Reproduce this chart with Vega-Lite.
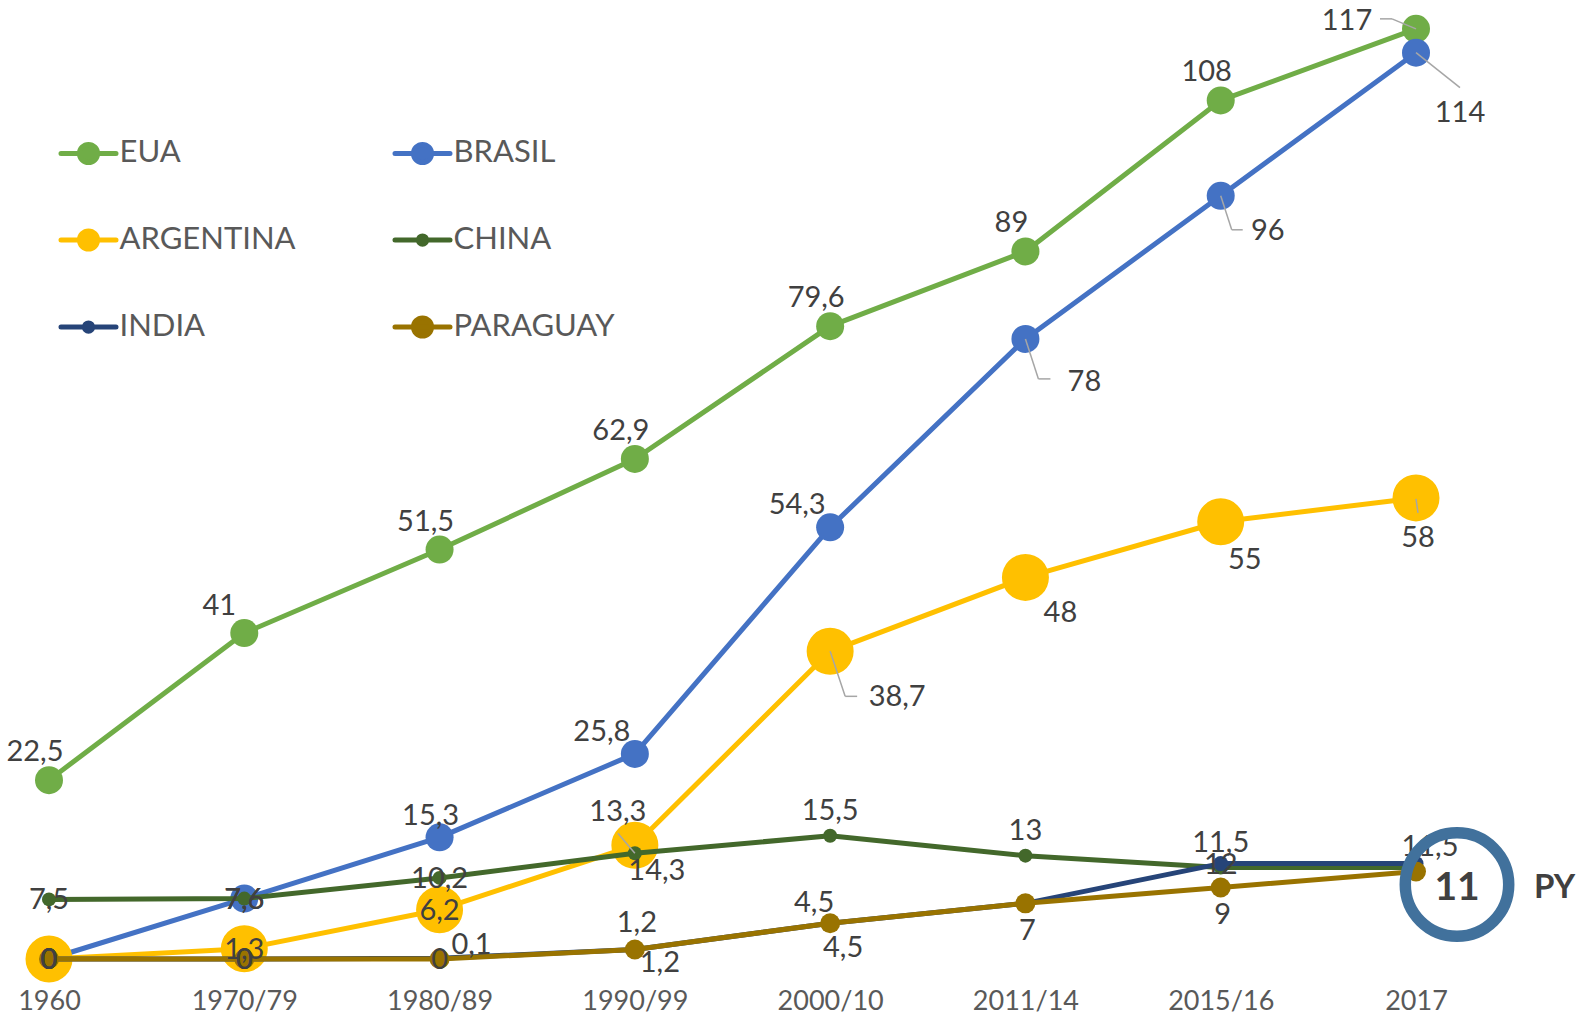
{
"$schema": "https://vega.github.io/schema/vega-lite/v6.json",
"width": 1367, "height": 954,
"autosize": {"type": "none"},
"padding": {"left": 49, "top": 5, "right": 164, "bottom": 58},
"background": "white",
"config": {"view": {"stroke": null}, "font": "Lato", "text": {"font": "Lato", "fontSize": 29, "color": "#404040"}},
"data": {"values": [
{"c":"EUA","p":"1960","v":22.5},{"c":"EUA","p":"1970/79","v":41},{"c":"EUA","p":"1980/89","v":51.5},{"c":"EUA","p":"1990/99","v":62.9},{"c":"EUA","p":"2000/10","v":79.6},{"c":"EUA","p":"2011/14","v":89},{"c":"EUA","p":"2015/16","v":108},{"c":"EUA","p":"2017","v":117},
{"c":"BRASIL","p":"1960","v":0},{"c":"BRASIL","p":"1970/79","v":7.6},{"c":"BRASIL","p":"1980/89","v":15.3},{"c":"BRASIL","p":"1990/99","v":25.8},{"c":"BRASIL","p":"2000/10","v":54.3},{"c":"BRASIL","p":"2011/14","v":78},{"c":"BRASIL","p":"2015/16","v":96},{"c":"BRASIL","p":"2017","v":114},
{"c":"ARGENTINA","p":"1960","v":0},{"c":"ARGENTINA","p":"1970/79","v":1.3},{"c":"ARGENTINA","p":"1980/89","v":6.2},{"c":"ARGENTINA","p":"1990/99","v":14.3},{"c":"ARGENTINA","p":"2000/10","v":38.7},{"c":"ARGENTINA","p":"2011/14","v":48},{"c":"ARGENTINA","p":"2015/16","v":55},{"c":"ARGENTINA","p":"2017","v":58},
{"c":"CHINA","p":"1960","v":7.5},{"c":"CHINA","p":"1970/79","v":7.6},{"c":"CHINA","p":"1980/89","v":10.2},{"c":"CHINA","p":"1990/99","v":13.3},{"c":"CHINA","p":"2000/10","v":15.5},{"c":"CHINA","p":"2011/14","v":13},{"c":"CHINA","p":"2015/16","v":11.5},{"c":"CHINA","p":"2017","v":11.5},
{"c":"INDIA","p":"1960","v":0},{"c":"INDIA","p":"1970/79","v":0},{"c":"INDIA","p":"1980/89","v":0.1},{"c":"INDIA","p":"1990/99","v":1.2},{"c":"INDIA","p":"2000/10","v":4.5},{"c":"INDIA","p":"2011/14","v":7},{"c":"INDIA","p":"2015/16","v":12},{"c":"INDIA","p":"2017","v":12},
{"c":"PARAGUAY","p":"1960","v":0},{"c":"PARAGUAY","p":"1970/79","v":0},{"c":"PARAGUAY","p":"1980/89","v":0},{"c":"PARAGUAY","p":"1990/99","v":1.2},{"c":"PARAGUAY","p":"2000/10","v":4.5},{"c":"PARAGUAY","p":"2011/14","v":7},{"c":"PARAGUAY","p":"2015/16","v":9},{"c":"PARAGUAY","p":"2017","v":11}
]},
"transform": [
{"calculate": "datum.c + '|' + datum.p", "as": "k"},
{"calculate": "replace(format(datum.v, '.1~f'), '.', ',')", "as": "lab"}
],
"encoding": {
"x": {"field": "p", "type": "ordinal", "sort": ["1960","1970/79","1980/89","1990/99","2000/10","2011/14","2015/16","2017"], "scale": {"type": "point", "padding": 0},
 "axis": {"title": null, "labelAngle": 0, "ticks": false, "tickSize": 0, "domain": false, "grid": false, "labelFontSize": 27, "labelFont": "Lato", "labelColor": "#595959", "labelPadding": 29}},
"y": {"field": "v", "type": "quantitative", "scale": {"domain": [0, 120], "nice": false}, "axis": null}
},
"layer": [
{"transform": [{"filter": "datum.c=='EUA'"}], "layer": [
 {"mark": {"type": "line", "strokeWidth": 5, "strokeJoin": "round"}, "encoding": {"color": {"field": "c", "type": "nominal",
  "scale": {"domain": ["EUA","ARGENTINA","INDIA","BRASIL","CHINA","PARAGUAY"], "range": ["#70AD47","#FFC000","#264478","#4472C4","#43682B","#997300"]},
  "legend": {"title": null, "orient": "none", "legendX": 9.5, "legendY": 118, "columns": 2, "columnPadding": 88, "rowPadding": 37,
   "symbolSize": 3025, "symbolStrokeWidth": 5, "labelFont": "Lato", "labelFontSize": 31, "labelColor": "#595959", "labelOffset": 1, "labelLimit": 400,
   "symbolType": "M-1,0L1,0M0.33,0A0.33,0.33,0,1,1,-0.33,0A0.33,0.33,0,1,1,0.33,0Z",
   "encode": {"symbols": {"update": {"fill": {"scale": "color", "field": "value"}, "stroke": {"scale": "color", "field": "value"}, "strokeWidth": {"value": 5}, "opacity": {"value": 1}, "strokeCap": {"value": "round"},
    "shape": {"signal": "datum.value==='CHINA'||datum.value==='INDIA' ? 'M-1,0L1,0M0.15,0A0.15,0.15,0,1,1,-0.15,0A0.15,0.15,0,1,1,0.15,0Z' : 'M-1,0L1,0M0.33,0A0.33,0.33,0,1,1,-0.33,0A0.33,0.33,0,1,1,0.33,0Z'"}}}}}}}},
 {"mark": {"type": "point", "filled": true, "opacity": 1, "size": 784, "shape": "circle"}, "encoding": {"color": {"field": "c", "type": "nominal"}}}
]},
{"transform": [{"filter": "datum.c=='BRASIL'"}], "layer": [
 {"mark": {"type": "line", "strokeWidth": 5, "strokeJoin": "round"}, "encoding": {"color": {"field": "c", "type": "nominal"}}},
 {"mark": {"type": "point", "filled": true, "opacity": 1, "size": 784, "shape": "circle"}, "encoding": {"color": {"field": "c", "type": "nominal"}}}
]},
{"transform": [{"filter": "datum.c=='ARGENTINA'"}], "layer": [
 {"mark": {"type": "line", "strokeWidth": 5, "strokeJoin": "round"}, "encoding": {"color": {"field": "c", "type": "nominal"}}},
 {"mark": {"type": "point", "filled": true, "opacity": 1, "size": 2209, "shape": "circle"}, "encoding": {"color": {"field": "c", "type": "nominal"}}}
]},
{"transform": [{"filter": "datum.c=='CHINA'"}], "layer": [
 {"mark": {"type": "line", "strokeWidth": 5, "strokeJoin": "round"}, "encoding": {"color": {"field": "c", "type": "nominal"}}},
 {"mark": {"type": "point", "filled": true, "opacity": 1, "size": 196, "shape": "circle"}, "encoding": {"color": {"field": "c", "type": "nominal"}}}
]},
{"transform": [{"filter": "datum.c=='INDIA'"}], "layer": [
 {"mark": {"type": "line", "strokeWidth": 5, "strokeJoin": "round"}, "encoding": {"color": {"field": "c", "type": "nominal"}}},
 {"mark": {"type": "point", "filled": true, "opacity": 1, "size": 225, "shape": "circle"}, "encoding": {"color": {"field": "c", "type": "nominal"}}}
]},
{"transform": [{"filter": "datum.c=='PARAGUAY'"}], "layer": [
 {"mark": {"type": "line", "strokeWidth": 5, "strokeJoin": "round"}, "encoding": {"color": {"field": "c", "type": "nominal"}}},
 {"mark": {"type": "point", "filled": true, "opacity": 1, "size": 400, "shape": "circle"}, "encoding": {"color": {"field": "c", "type": "nominal"}}}
]},
{"encoding": {"x2": {"field": "p"}, "y2": {"field": "v"}}, "layer": [
 {"transform": [{"filter": "datum.k=='EUA|2017'"}], "mark": {"type": "rule", "color": "#A6A6A6", "strokeWidth": 1.5, "xOffset": 0, "yOffset": 0, "x2Offset": -24, "y2Offset": -10}},
 {"transform": [{"filter": "datum.k=='EUA|2017'"}], "mark": {"type": "rule", "color": "#A6A6A6", "strokeWidth": 1.5, "xOffset": -24, "yOffset": -10, "x2Offset": -36, "y2Offset": -10}},
 {"transform": [{"filter": "datum.k=='BRASIL|2017'"}], "mark": {"type": "rule", "color": "#A6A6A6", "strokeWidth": 1.5, "xOffset": 0, "yOffset": 0, "x2Offset": 44, "y2Offset": 35}},
 {"transform": [{"filter": "datum.k=='BRASIL|2015/16'"}], "mark": {"type": "rule", "color": "#A6A6A6", "strokeWidth": 1.5, "xOffset": 0, "yOffset": 0, "x2Offset": 11, "y2Offset": 34}},
 {"transform": [{"filter": "datum.k=='BRASIL|2015/16'"}], "mark": {"type": "rule", "color": "#A6A6A6", "strokeWidth": 1.5, "xOffset": 11, "yOffset": 34, "x2Offset": 22, "y2Offset": 34}},
 {"transform": [{"filter": "datum.k=='BRASIL|2011/14'"}], "mark": {"type": "rule", "color": "#A6A6A6", "strokeWidth": 1.5, "xOffset": 0, "yOffset": 0, "x2Offset": 13, "y2Offset": 40}},
 {"transform": [{"filter": "datum.k=='BRASIL|2011/14'"}], "mark": {"type": "rule", "color": "#A6A6A6", "strokeWidth": 1.5, "xOffset": 13, "yOffset": 40, "x2Offset": 25, "y2Offset": 40}},
 {"transform": [{"filter": "datum.k=='ARGENTINA|2000/10'"}], "mark": {"type": "rule", "color": "#A6A6A6", "strokeWidth": 1.5, "xOffset": 0, "yOffset": 0, "x2Offset": 15, "y2Offset": 45}},
 {"transform": [{"filter": "datum.k=='ARGENTINA|2000/10'"}], "mark": {"type": "rule", "color": "#A6A6A6", "strokeWidth": 1.5, "xOffset": 15, "yOffset": 45, "x2Offset": 27, "y2Offset": 45}},
 {"transform": [{"filter": "datum.k=='ARGENTINA|2017'"}], "mark": {"type": "rule", "color": "#A6A6A6", "strokeWidth": 1.5, "xOffset": 0, "yOffset": 1, "x2Offset": 2, "y2Offset": 15}},
 {"transform": [{"filter": "datum.k=='CHINA|1990/99'"}], "mark": {"type": "rule", "color": "#A6A6A6", "strokeWidth": 1.5, "xOffset": 0, "yOffset": 0, "x2Offset": -17, "y2Offset": -20}}
]},
{"encoding": {"text": {"field": "lab"}}, "layer": [
 {"transform": [{"filter": "indexof(['EUA|1960','EUA|1980/89','EUA|1990/99','EUA|2000/10','EUA|2011/14','EUA|2015/16'], datum.k) >= 0"}], "mark": {"type": "text", "dx": -14, "dy": -28}},
 {"transform": [{"filter": "datum.k=='EUA|1970/79'"}], "mark": {"type": "text", "dx": -25, "dy": -27}},
 {"transform": [{"filter": "datum.k=='EUA|2017'"}], "mark": {"type": "text", "dx": -69, "dy": -8}},
 {"transform": [{"filter": "datum.k=='BRASIL|1980/89'"}], "mark": {"type": "text", "dx": -9, "dy": -21}},
 {"transform": [{"filter": "indexof(['BRASIL|1990/99','BRASIL|2000/10'], datum.k) >= 0"}], "mark": {"type": "text", "dx": -33, "dy": -22}},
 {"transform": [{"filter": "datum.k=='BRASIL|2011/14'"}], "mark": {"type": "text", "dx": 59, "dy": 43}},
 {"transform": [{"filter": "datum.k=='BRASIL|2015/16'"}], "mark": {"type": "text", "dx": 47, "dy": 35}},
 {"transform": [{"filter": "datum.k=='BRASIL|2017'"}], "mark": {"type": "text", "dx": 44, "dy": 60}},
 {"transform": [{"filter": "indexof(['BRASIL|1960','BRASIL|1970/79','ARGENTINA|1960','ARGENTINA|1970/79','ARGENTINA|1980/89','INDIA|1960','INDIA|1970/79','PARAGUAY|1960','PARAGUAY|1970/79','PARAGUAY|1980/89','CHINA|1960','CHINA|1970/79','CHINA|1980/89','INDIA|2015/16'], datum.k) >= 0"}], "mark": {"type": "text", "dx": 0, "dy": 1}},
 {"transform": [{"filter": "datum.k=='ARGENTINA|1990/99'"}], "mark": {"type": "text", "dx": 22, "dy": 26}},
 {"transform": [{"filter": "datum.k=='CHINA|1990/99'"}], "mark": {"type": "text", "dx": -17, "dy": -41}},
 {"transform": [{"filter": "datum.k=='ARGENTINA|2000/10'"}], "mark": {"type": "text", "dx": 67, "dy": 46}},
 {"transform": [{"filter": "datum.k=='ARGENTINA|2011/14'"}], "mark": {"type": "text", "dx": 35, "dy": 36}},
 {"transform": [{"filter": "datum.k=='ARGENTINA|2015/16'"}], "mark": {"type": "text", "dx": 24, "dy": 38}},
 {"transform": [{"filter": "datum.k=='ARGENTINA|2017'"}], "mark": {"type": "text", "dx": 2, "dy": 40}},
 {"transform": [{"filter": "indexof(['CHINA|2000/10','CHINA|2011/14','CHINA|2015/16'], datum.k) >= 0"}], "mark": {"type": "text", "dx": 0, "dy": -25}},
 {"transform": [{"filter": "datum.k=='CHINA|2017'"}], "mark": {"type": "text", "dx": 14, "dy": -21}},
 {"transform": [{"filter": "datum.k=='INDIA|1980/89'"}], "mark": {"type": "text", "dx": 32, "dy": -13}},
 {"transform": [{"filter": "datum.k=='INDIA|1990/99'"}], "mark": {"type": "text", "dx": 2, "dy": -26}},
 {"transform": [{"filter": "datum.k=='INDIA|2000/10'"}], "mark": {"type": "text", "dx": -16, "dy": -20}},
 {"transform": [{"filter": "datum.k=='PARAGUAY|1990/99'"}], "mark": {"type": "text", "dx": 25, "dy": 14}},
 {"transform": [{"filter": "datum.k=='PARAGUAY|2000/10'"}], "mark": {"type": "text", "dx": 13, "dy": 25}},
 {"transform": [{"filter": "indexof(['PARAGUAY|2011/14','PARAGUAY|2015/16'], datum.k) >= 0"}], "mark": {"type": "text", "dx": 2, "dy": 28}}
]},
{"transform": [{"filter": "datum.k=='PARAGUAY|2017'"}], "layer": [
 {"mark": {"type": "point", "shape": "circle", "filled": false, "size": 10700, "stroke": "#41719C", "strokeWidth": 11.5, "opacity": 1, "xOffset": 41, "yOffset": 13}},
 {"mark": {"type": "text", "fontWeight": "bold", "fontSize": 39, "color": "#404040", "dx": 41, "dy": 16}, "encoding": {"text": {"field": "lab"}}},
 {"mark": {"type": "text", "text": "PY", "fontWeight": "bold", "fontSize": 33, "color": "#404040", "align": "left", "dx": 118, "dy": 16}}
]}
]
}
